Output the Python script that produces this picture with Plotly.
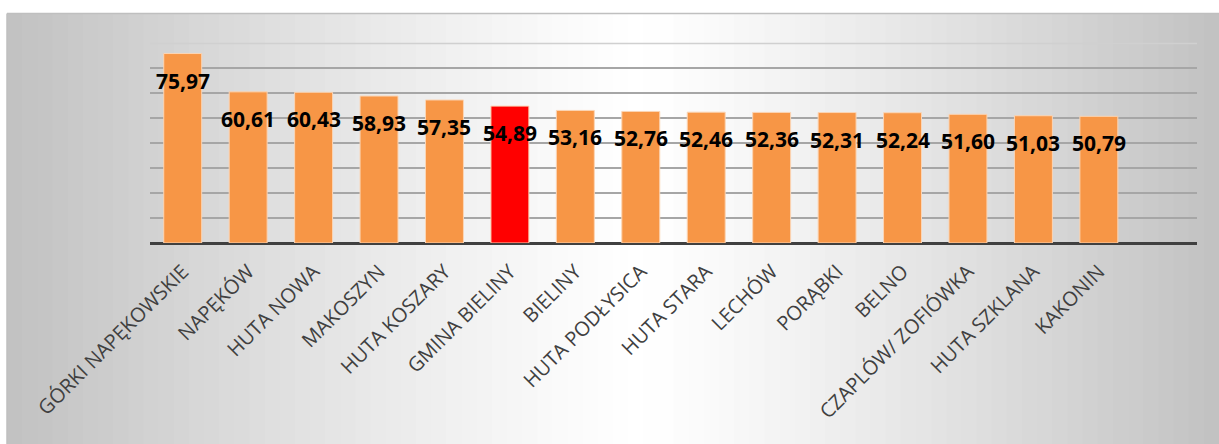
import plotly.graph_objects as go

categories = ["GÓRKI NAPĘKOWSKIE", "NAPĘKÓW", "HUTA NOWA", "MAKOSZYN", "HUTA KOSZARY",
              "GMINA BIELINY", "BIELINY", "HUTA PODŁYSICA", "HUTA STARA", "LECHÓW",
              "PORĄBKI", "BELNO", "CZAPLÓW/ ZOFIÓWKA", "HUTA SZKLANA", "KAKONIN"]
values = [75.97, 60.61, 60.43, 58.93, 57.35, 54.89, 53.16, 52.76, 52.46, 52.36,
          52.31, 52.24, 51.60, 51.03, 50.79]
highlight = "GMINA BIELINY"
grid_vals = [10, 20, 30, 40, 50, 60, 70]
top_grid = 80

W, H = 1219, 444
ml, mr, mt, mb = 150, 22, 40.5, 201
pw = W - ml - mr
ph = H - mt - mb

colors = ["#FF0000" if c == highlight else "#F79646" for c in categories]

fig = go.Figure()
fig.add_trace(go.Bar(
    x=categories, y=values, marker=dict(color=colors, line=dict(color="#FBD5B5", width=1)),
    width=0.58, hoverinfo="x+y"))

for c, v in zip(categories, values):
    fig.add_annotation(x=c, y=v, text=f"{v:.2f}".replace(".", ","), showarrow=False,
                       yshift=-27, font=dict(family="Open Sans", size=21, color="black",
                                              weight="bold"))

# gradient background (stripes)
shapes = []
n = 80
x_start, x_end = 7, W
top_px = 13
for i in range(n):
    px0 = x_start + (x_end - x_start) * i / n
    px1 = x_start + (x_end - x_start) * (i + 1) / n
    pm = (px0 + px1) / 2
    peak = 640
    if pm < peak:
        t = (peak - pm) / (peak - x_start)
    else:
        t = (pm - peak) / (x_end - peak)
    g = int(round(255 - 62 * t ** 1.2))
    col = f"rgb({g},{g},{g})"
    shapes.append(dict(type="rect", xref="paper", yref="paper", layer="below",
                       x0=(px0 - ml) / pw, x1=(px1 + 0.8 - ml) / pw,
                       y0=-(mb + 5) / ph, y1=(H - mb - top_px) / ph,
                       fillcolor=col, line=dict(width=0)))
# border lines
shapes.append(dict(type="line", xref="paper", yref="paper", layer="below",
                   x0=(7 - ml) / pw, x1=(W - ml) / pw, y0=(H - mb - top_px) / ph,
                   y1=(H - mb - top_px) / ph, line=dict(color="#BFBFBF", width=1.5)))
shapes.append(dict(type="line", xref="paper", yref="paper", layer="below",
                   x0=(7 - ml) / pw, x1=(7 - ml) / pw, y0=-(mb + 5) / ph,
                   y1=(H - mb - top_px) / ph, line=dict(color="#BFBFBF", width=1.5)))
# lighter top gridline
shapes.append(dict(type="line", xref="paper", yref="y", layer="below",
                   x0=0, x1=1, y0=top_grid, y1=top_grid,
                   line=dict(color="#D0D0D0", width=1.5)))

fig.update_layout(
    width=W, height=H, margin=dict(l=ml, r=mr, t=mt, b=mb, autoexpand=False),
    paper_bgcolor="white", plot_bgcolor="rgba(0,0,0,0)",
    showlegend=False, shapes=shapes, bargap=0.42,
    xaxis=dict(range=[-0.5, 15.5], tickangle=-45, showgrid=False, ticks="",
               tickfont=dict(family="Open Sans", size=20, color="#404040"),
               ticklabelstandoff=12,
               showline=False, zeroline=False, automargin=False),
    yaxis=dict(range=[0, 81], tickvals=grid_vals,
               showticklabels=False, showgrid=True,
               gridcolor="#A6A6A6", gridwidth=1.5, zeroline=True, zerolinecolor="#404040",
               zerolinewidth=3, showline=False, automargin=False),
)

fig.write_html("out.html", config={"displayModeBar": False},
               post_script="document.body.style.margin='0';")
